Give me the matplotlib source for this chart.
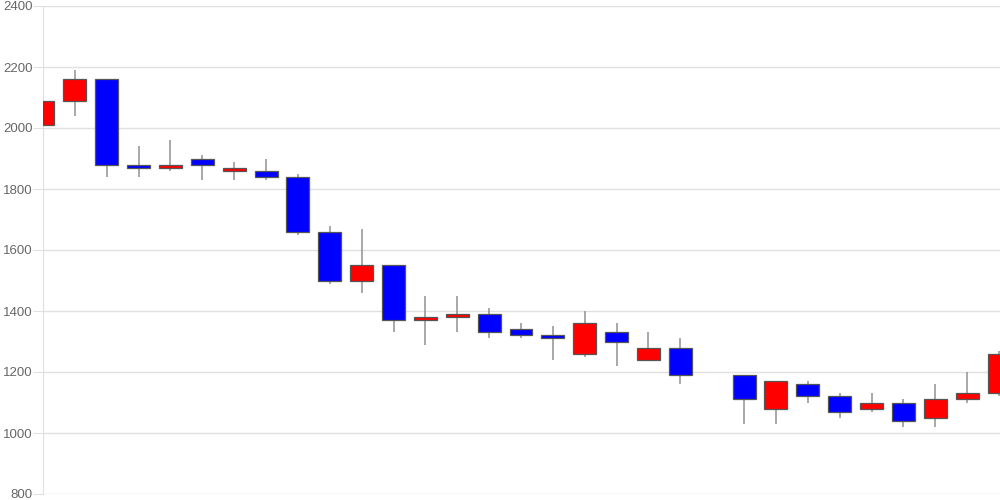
import numpy as np
import matplotlib.pyplot as plt

plt.rcParams['font.family'] = ['Liberation Sans', 'DejaVu Sans']

# candle slots (slot 21 has no data)
pos = [0, 1, 2, 3, 4, 5, 6, 7, 8, 9, 10, 11, 12, 13, 14, 15, 16, 17, 18, 19, 20,
       22, 23, 24, 25, 26, 27, 28, 29, 30]
opens = [2010, 2090, 2160, 1880, 1870, 1900, 1860, 1860, 1840, 1660, 1500, 1550, 1370, 1380, 1390,
         1340, 1320, 1260, 1330, 1240, 1280, 1190, 1080, 1160, 1120, 1080, 1100, 1050, 1110, 1130]
closes = [2090, 2160, 1880, 1870, 1880, 1880, 1870, 1840, 1660, 1500, 1550, 1370, 1380, 1390, 1330,
          1320, 1310, 1360, 1300, 1280, 1190, 1110, 1170, 1120, 1070, 1100, 1040, 1110, 1130, 1260]
highs = [2150, 2190, 2160, 1940, 1960, 1910, 1890, 1900, 1850, 1680, 1670, 1550, 1450, 1450, 1410,
         1360, 1350, 1400, 1360, 1330, 1310, 1190, 1170, 1170, 1130, 1130, 1110, 1160, 1200, 1270]
lows = [2010, 2040, 1840, 1840, 1860, 1830, 1830, 1830, 1650, 1490, 1460, 1330, 1290, 1330, 1310,
        1310, 1240, 1250, 1220, 1240, 1160, 1030, 1030, 1100, 1050, 1070, 1020, 1020, 1100, 1120]

yticks = [800, 1000, 1200, 1400, 1600, 1800, 2000, 2200, 2400]

fig = plt.figure(figsize=(10, 5), dpi=100)
ax = fig.add_axes([0.043, 0.012, 0.957, 0.976])

w = 0.72
for x, o, c, h, l in zip(pos, opens, closes, highs, lows):
    ax.vlines(x, l, h, color='#999999', linewidth=1.2, zorder=2)
    col = '#ff0000' if c >= o else '#0000ff'
    ax.bar(x, abs(c - o), bottom=min(o, c), width=w, color=col,
           edgecolor='#555555', linewidth=0.9, zorder=3)

ax.set_xlim(0, 30.03)
ax.set_ylim(800, 2400)
ax.set_yticks(yticks)
ax.set_yticklabels([str(t) for t in yticks])
ax.set_xticks([])
ax.grid(axis='y', color='#e0e0e0', linewidth=1)
ax.set_axisbelow(True)
for s in ['top', 'right', 'bottom']:
    ax.spines[s].set_visible(False)
ax.spines['left'].set_color('#e0e0e0')
ax.tick_params(axis='y', colors='#e0e0e0', labelcolor='#666666', labelsize=9.5, length=7, pad=0.5)

fig.savefig('out.png')
